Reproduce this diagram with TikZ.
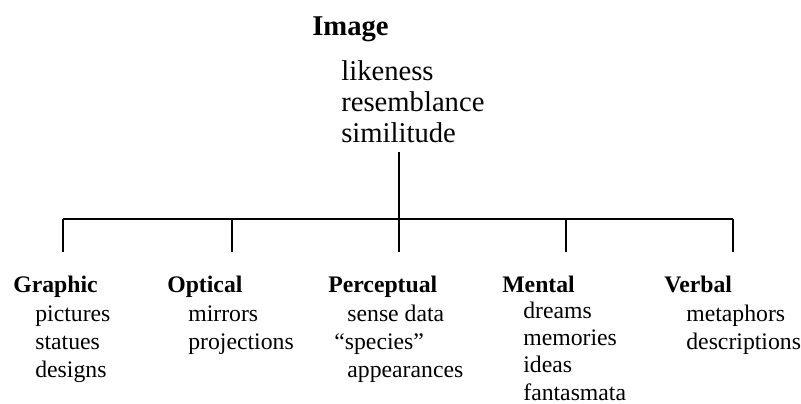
\documentclass[tikz,border=0pt]{standalone}
\usepackage{fontspec}
\setmainfont{Liberation Serif}
\usepackage{tikz}
\usetikzlibrary{positioning,calc}
\tikzset{
  title/.style={font=\bfseries\fontsize{16.3}{19}\selectfont, inner sep=0pt, anchor=base west},
  toplist/.style={font=\fontsize{16.3}{17.6}\selectfont, inner sep=0pt, align=left, anchor=base west},
  head/.style={font=\bfseries\fontsize{13.5}{16}\selectfont, inner sep=0pt, anchor=base west},
  items/.style={font=\fontsize{13.5}{15.9}\selectfont, inner sep=0pt, align=left, anchor=base west},
  branch/.style={line width=1pt}
}
\begin{document}
\begin{tikzpicture}[x=0.02cm, y=-0.02cm]
  \useasboundingbox (0,0) rectangle (801,403);
  % top of the tree (list nodes sit on their last line)
  \node[title] (image) at (312,35) {Image};
  \node[toplist] (imglist) at (341,142) {likeness\\resemblance\\similitude};
  % the five kinds
  \node[head] (graphic) at (13,292) {Graphic};
  \node[items] (graphiclist) at (35,377) {pictures\\statues\\designs};
  \node[head] (optical) at (167,292) {Optical};
  \node[items] (opticallist) at (188,349) {mirrors\\projections};
  \node[head] (perceptual) at (328,292) {Perceptual};
  \node[items] (perceptlist) at (334,377) {\hspace{0.55em}sense data\\“species”\\\hspace{0.55em}appearances};
  \node[head] (mental) at (502,292) {Mental};
  \node[items, font=\fontsize{13.5}{15.5}\selectfont] (mentallist) at (523,400) {dreams\\memories\\ideas\\fantasmata};
  \node[head] (verbal) at (664,292) {Verbal};
  \node[items] (verballist) at (686,349) {metaphors\\descriptions};
  % branches
  \coordinate (stem) at (399,152);
  \foreach \x [count=\i] in {63,232,399,566,733} {
    \coordinate (t\i) at (\x,219);
    \coordinate (b\i) at (\x,252);
    \draw[branch] (t\i) -- (b\i);
  }
  \draw[branch] (stem) -- (t3);
  \draw[branch] (t1) -- (t5);
\end{tikzpicture}
\end{document}
